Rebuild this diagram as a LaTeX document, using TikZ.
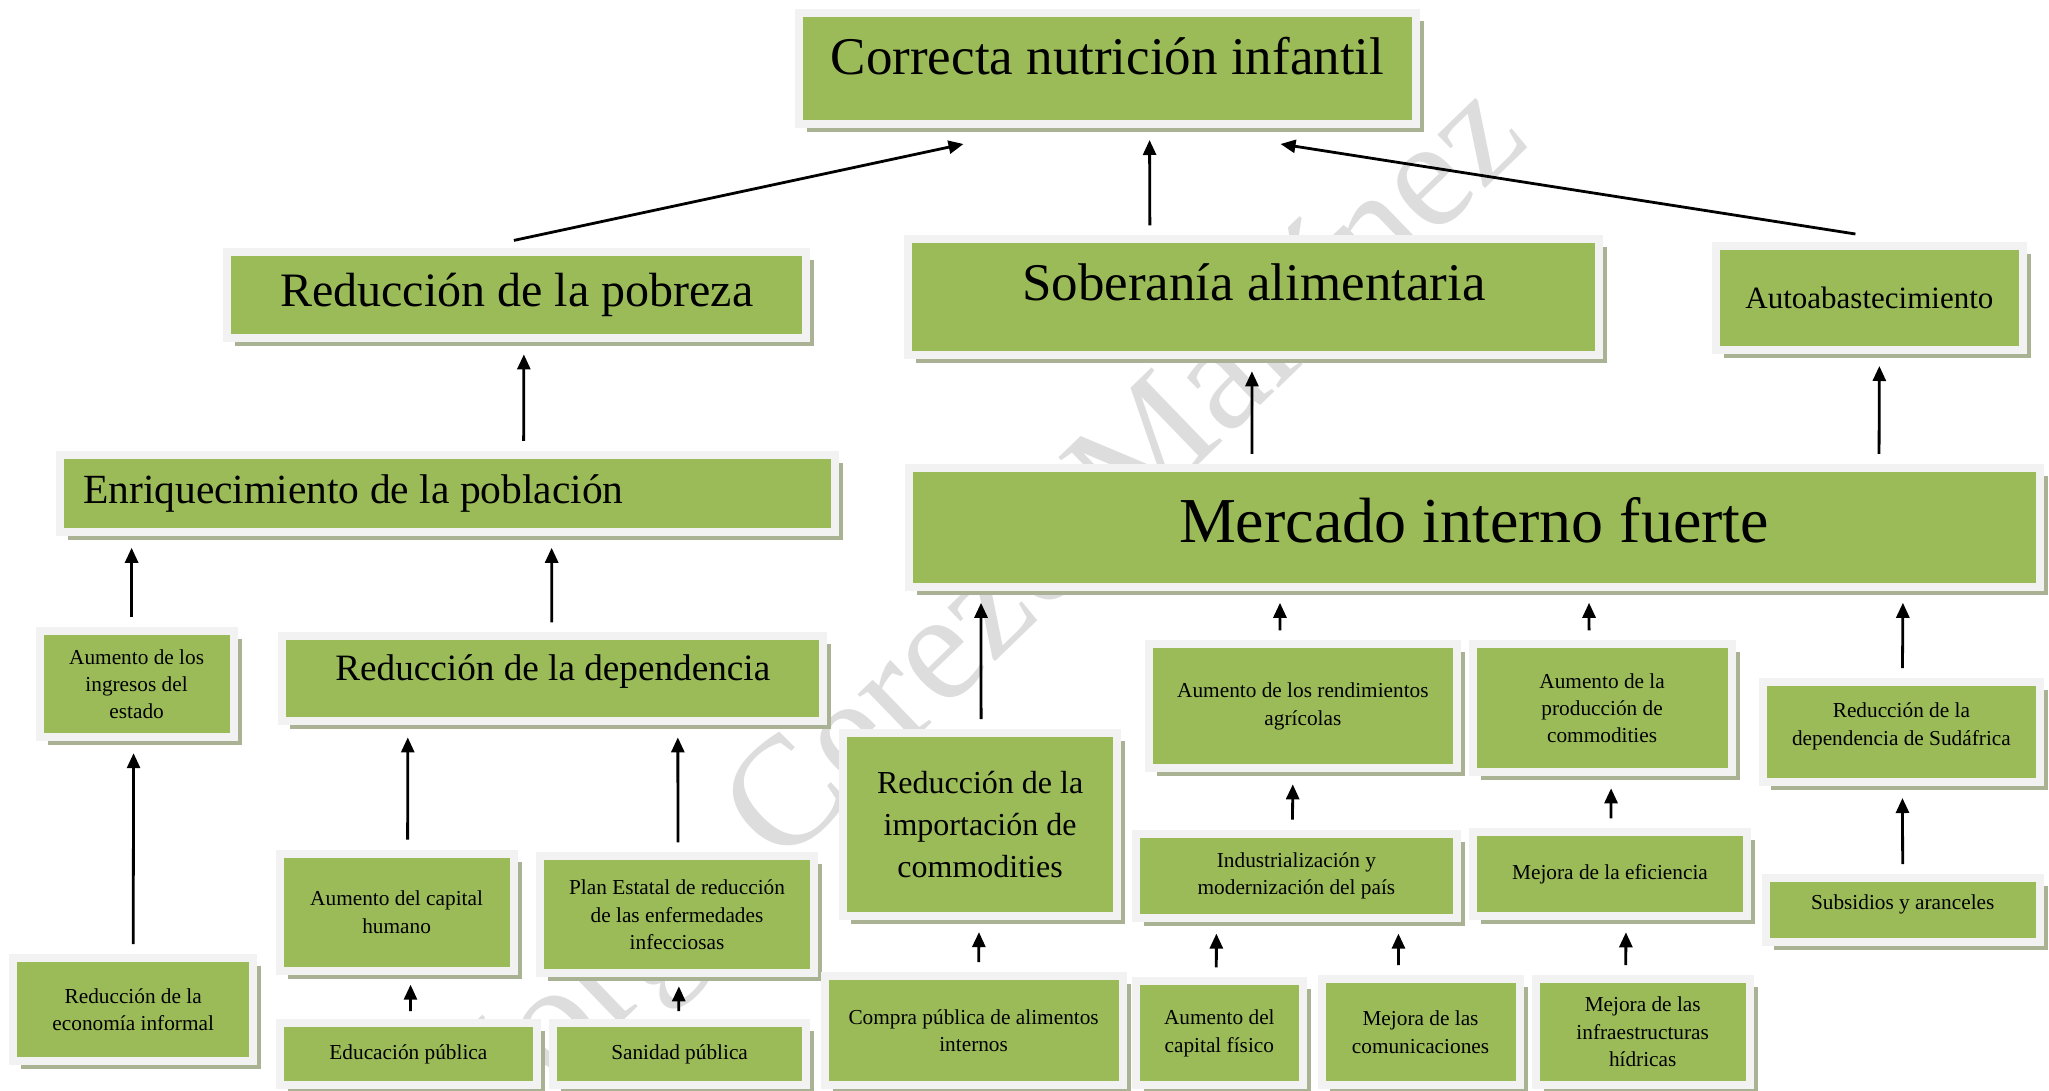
\documentclass[tikz,border=0pt]{standalone}
\usepackage{fontspec}
\setmainfont{Liberation Serif}
\usetikzlibrary{arrows.meta,shadows}
\definecolor{boxgreen}{RGB}{155,187,89}
\definecolor{boxframe}{RGB}{242,242,242}
\definecolor{boxshadow}{RGB}{170,178,148}
\definecolor{wmark}{RGB}{221,221,221}

\begin{document}
\begin{tikzpicture}[x=1pt, y=-1pt,
    box/.style={draw=boxframe, line width=8pt, fill=boxgreen, inner sep=2pt, align=center,
      drop shadow={shadow xshift=8pt, shadow yshift=-8pt, fill=boxshadow, opacity=1}},
    txt/.style={font=\fontsize{21.3}{27.4}\selectfont},
    arr/.style={line width=2.8pt, -{Triangle[length=15pt,width=13pt]}, shorten <=10pt, shorten >=12pt}
    ]
    \useasboundingbox (0,0) rectangle (2049,1090);
    \clip (0,0) rectangle (2049,1090);
    \node[rotate=44, text=wmark, font=\fontsize{156}{156}\selectfont] (firma) at (996,609) {Jorge Cerezo Martínez};

    \node[box, minimum width=617pt, minimum height=111pt, text depth=26pt, font=\fontsize{53}{60}\selectfont] (correcta) at (1107.5,68.5) {Correcta nutrición infantil};
    \node[box, minimum width=579pt, minimum height=86pt, font=\fontsize{48}{56}\selectfont] (pobreza) at (516.9,295.4) {Reducción de la pobreza};
    \node[box, minimum width=691pt, minimum height=116pt, text depth=30pt, font=\fontsize{53}{60}\selectfont] (soberania) at (1253.9,297.3) {Soberanía alimentaria};
    \node[box, minimum width=307pt, minimum height=104pt, font=\fontsize{31}{38}\selectfont] (autoab) at (1869.4,298) {Autoabastecimiento};
    \node[box, text width=729pt, align=flush left, inner xsep=23pt, minimum height=77pt, font=\fontsize{41.5}{48}\selectfont] (enriq) at (447.6,493.3) {Enriquecimiento de la población};
    \node[box, minimum width=1131pt, minimum height=119pt, text depth=14pt, font=\fontsize{64}{72}\selectfont] (mercado) at (1474,527.3) {Mercado interno fuerte};

    \node[box, txt, minimum width=194pt, minimum height=106pt] (ingresos) at (136.6,684.2) {Aumento de los\\ingresos del\\estado};
    \node[box, minimum width=541pt, minimum height=85pt, text depth=22pt, font=\fontsize{37.2}{44}\selectfont] (depend) at (552.8,678.9) {Reducción de la dependencia};
    \node[box, minimum width=274pt, minimum height=183pt, font=\fontsize{32}{41.8}\selectfont] (import) at (980.1,824.6) {Reducción de la\\importación de\\commodities};
    \node[box, txt, minimum width=308pt, minimum height=124pt] (rendim) at (1302.9,706.3) {Aumento de los rendimientos\\agrícolas};
    \node[box, txt, minimum width=259pt, minimum height=128pt] (produc) at (1602.1,708.3) {Aumento de la\\producción de\\commodities};
    \node[box, txt, minimum width=277pt, minimum height=100pt, text depth=16pt] (sudaf) at (1901.4,732) {Reducción de la\\dependencia de Sudáfrica};

    \node[box, txt, minimum width=234pt, minimum height=117pt] (humano) at (396.6,912.2) {Aumento del capital\\humano};
    \node[box, txt, minimum width=274pt, minimum height=117pt] (plan) at (677,914.8) {Plan Estatal de reducción\\de las enfermedades\\infecciosas};
    \node[box, txt, minimum width=321pt, minimum height=84pt] (industr) at (1296.4,875.6) {Industrialización y\\modernización del país};
    \node[box, txt, minimum width=274pt, minimum height=84pt] (efic) at (1610,874.3) {Mejora de la eficiencia};
    \node[box, txt, minimum width=274pt, minimum height=64pt, text depth=16pt] (subsid) at (1902.7,910.2) {Subsidios y aranceles};

    \node[box, txt, minimum width=240pt, minimum height=103pt] (informal) at (133.2,1009.5) {Reducción de la\\economía informal};
    \node[box, txt, minimum width=257pt, minimum height=62pt] (educ) at (408.4,1054.2) {Educación pública};
    \node[box, txt, minimum width=253pt, minimum height=62pt] (sanidad) at (679.6,1054.2) {Sanidad pública};
    \node[box, txt, minimum width=298pt, minimum height=109pt] (compra) at (973.6,1030.7) {Compra pública de alimentos\\internos};
    \node[box, txt, minimum width=167pt, minimum height=104pt] (fisico) at (1219.3,1033.3) {Aumento del\\capital físico};
    \node[box, txt, minimum width=198pt, minimum height=106pt] (comunic) at (1420.5,1032) {Mejora de las\\comunicaciones};
    \node[box, txt, minimum width=214pt, minimum height=106pt] (hidricas) at (1642.7,1032) {Mejora de las\\infraestructuras\\hídricas};

    \draw[arr, shorten <=0pt, shorten >=0pt] ([xshift=-3pt,yshift=8pt]pobreza.north) -- ([xshift=-144pt,yshift=-16pt]correcta.south);
    \draw[arr] ([xshift=-104pt]soberania.north) -- ([xshift=42pt]correcta.south);
    \draw[arr, shorten <=0pt, shorten >=0pt] ([xshift=-14pt,yshift=8pt]autoab.north) -- ([xshift=173pt,yshift=-16pt]correcta.south);
    \draw[arr] ([xshift=76pt]enriq.north) -- ([xshift=7pt]pobreza.south);
    \draw[arr] ([xshift=-222pt]mercado.north) -- ([xshift=-2pt]soberania.south);
    \draw[arr] ([xshift=405pt]mercado.north) -- ([xshift=10pt]autoab.south);
    \draw[arr] ([xshift=-5pt]ingresos.north) -- ([xshift=-316pt]enriq.south);
    \draw[arr] ([xshift=-1pt]depend.north) -- ([xshift=104pt]enriq.south);
    \draw[arr] (informal.north) -- ([xshift=-3pt]ingresos.south);
    \draw[arr] ([xshift=11pt]humano.north) -- ([xshift=-145pt]depend.south);
    \draw[arr] ([xshift=1pt]plan.north) -- ([xshift=125pt]depend.south);
    \draw[arr, shorten <=8pt, shorten >=10pt] ([xshift=2pt]educ.north) -- ([xshift=14pt]humano.south);
    \draw[arr, shorten <=8pt, shorten >=9pt] ([xshift=-1pt]sanidad.north) -- ([xshift=2pt]plan.south);
    \draw[arr] ([xshift=1pt]import.north) -- ([xshift=-493pt]mercado.south);
    \draw[arr] ([xshift=-23pt]rendim.north) -- ([xshift=-194pt]mercado.south);
    \draw[arr] ([xshift=-13pt]produc.north) -- ([xshift=115pt]mercado.south);
    \draw[arr] ([xshift=1pt]sudaf.north) -- ([xshift=429pt]mercado.south);
    \draw[arr] ([xshift=-4pt]industr.north) -- ([xshift=-10pt]rendim.south);
    \draw[arr] ([xshift=1pt]efic.north) -- ([xshift=9pt]produc.south);
    \draw[arr] (subsid.north) -- ([xshift=1pt]sudaf.south);
    \draw[arr] ([xshift=5pt]compra.north) -- ([xshift=-1pt]import.south);
    \draw[arr] ([xshift=-3pt]fisico.north) -- ([xshift=-80pt]industr.south);
    \draw[arr] ([xshift=-22pt]comunic.north) -- ([xshift=102pt]industr.south);
    \draw[arr] ([xshift=-17pt]hidricas.north) -- ([xshift=16pt]efic.south);
  \end{tikzpicture}
\end{document}
